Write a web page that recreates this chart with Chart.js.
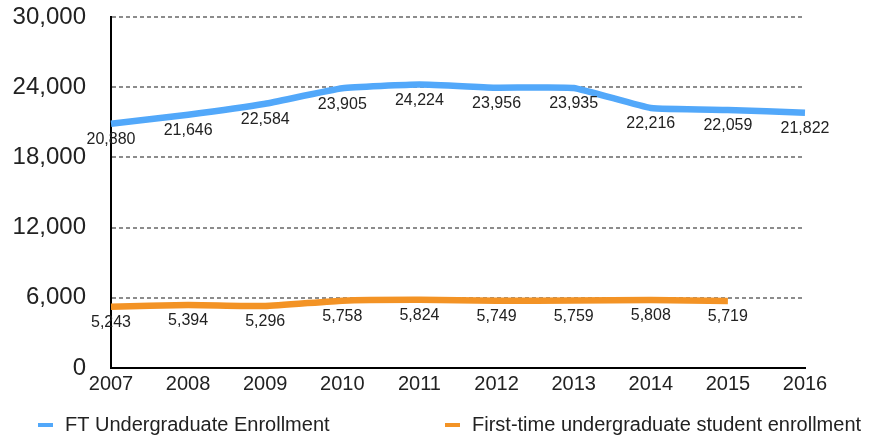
<!DOCTYPE html>
<html>
<head>
<meta charset="utf-8">
<script src="https://cdn.jsdelivr.net/npm/chart.js@4.4.1/dist/chart.umd.min.js"></script>
<style>
    html, body { margin: 0; padding: 0; background: #fff; }
    #wrap { width: 882px; height: 438px; position: relative; }
</style>
</head>
<body>
<div id="wrap"><canvas id="enrollChart"></canvas></div>
<script>
// Chart data
const years = ['2007', '2008', '2009', '2010', '2011', '2012', '2013', '2014', '2015', '2016'];
const ftEnrollment = [20880, 21646, 22584, 23905, 24224, 23956, 23935, 22216, 22059, 21822];
const firstTimeEnrollment = [5243, 5394, 5296, 5758, 5824, 5749, 5759, 5808, 5719, null];
const yTicks = [0, 6000, 12000, 18000, 24000, 30000];

const FONT = '"Liberation Sans", Arial, Helvetica, sans-serif';
const TEXT = '#222';

// Draws the value under each point
const valueLabels = {
    id: 'valueLabels',
    afterDatasetsDraw(chart) {
        const ctx = chart.ctx;
        ctx.save();
        ctx.font = '16px ' + FONT;
        ctx.fillStyle = TEXT;
        ctx.textAlign = 'center';
        ctx.textBaseline = 'middle';
        chart.data.datasets.forEach((ds, i) => {
            const meta = chart.getDatasetMeta(i);
            meta.data.forEach((pt, j) => {
                const v = ds.data[j];
                if (v === null || v === undefined) return;
                ctx.fillText(v.toLocaleString('en-US'), pt.x, pt.y + 16);
            });
        });
        ctx.restore();
    }
};

// Legend spread across the bottom, one item on the left, one in the middle
const wideLegend = {
    id: 'wideLegend',
    afterDraw(chart) {
        const ctx = chart.ctx;
        const starts = [38, 445];
        const y = 425;
        ctx.save();
        ctx.font = '20px ' + FONT;
        ctx.textBaseline = 'middle';
        ctx.textAlign = 'left';
        chart.data.datasets.forEach((ds, i) => {
            const x = starts[i];
            ctx.strokeStyle = ds.borderColor;
            ctx.lineWidth = 4;
            ctx.beginPath();
            ctx.moveTo(x, y);
            ctx.lineTo(x + 15, y);
            ctx.stroke();
            ctx.fillStyle = TEXT;
            ctx.fillText(ds.label, x + 27, y);
        });
        ctx.restore();
    }
};

new Chart(document.getElementById('enrollChart'), {
    type: 'line',
    data: {
        labels: years,
        datasets: [{
            label: 'FT Undergraduate Enrollment',
            data: ftEnrollment,
            borderColor: '#52a8fa',
            backgroundColor: '#52a8fa',
            borderWidth: 6.5,
            pointRadius: 0,
            tension: 0.12
        }, {
            label: 'First-time undergraduate student enrollment',
            data: firstTimeEnrollment,
            borderColor: '#f39325',
            backgroundColor: '#f39325',
            borderWidth: 6.5,
            pointRadius: 0,
            tension: 0.12
        }]
    },
    options: {
        responsive: true,
        maintainAspectRatio: false,
        animation: false,
        layout: { padding: { left: 10, right: 77, top: 17, bottom: 38 } },
        plugins: {
            legend: { display: false },
            tooltip: { enabled: false }
        },
        scales: {
            x: {
                offset: false,
                grid: { display: false, drawTicks: false },
                border: { color: '#000', width: 2 },
                ticks: { color: TEXT, font: { family: FONT, size: 20 }, padding: 4, maxRotation: 0, autoSkip: false }
            },
            y: {
                min: 0,
                max: 30000,
                afterBuildTicks(scale) {
                    scale.ticks = yTicks.map(v => ({ value: v }));
                },
                afterFit(scale) {
                    // fixed width, and no extra room above/below for the tick labels
                    scale.width = 101;
                    scale.paddingTop = 0;
                    scale.paddingBottom = 0;
                },
                grid: {
                    color: '#8c8c8c',
                    lineWidth: 2,
                    drawTicks: false
                },
                border: { color: '#000', width: 2, dash: [4, 3] },
                ticks: {
                    color: TEXT,
                    font: { family: FONT, size: 24 },
                    padding: 25,
                    autoSkip: false,
                    callback: v => v.toLocaleString('en-US')
                }
            }
        }
    },
    plugins: [valueLabels, wideLegend]
});
</script>
</body>
</html>
